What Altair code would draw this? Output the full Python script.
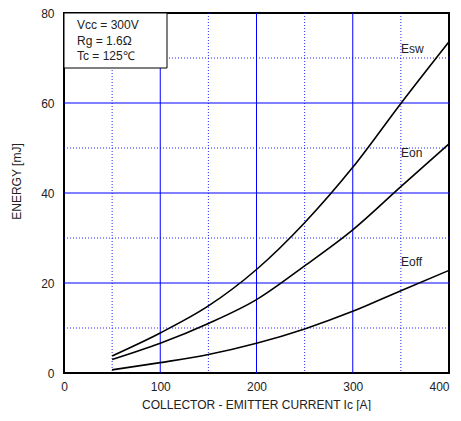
import altair as alt
import pandas as pd

# ---- data ----
ic = [50, 100, 150, 200, 250, 300, 350, 400]
esw = [3.8, 8.9, 14.9, 23.0, 33.4, 45.7, 59.9, 73.6]
eon = [3.0, 6.6, 11.0, 16.3, 23.8, 31.8, 41.4, 50.9]
eoff = [0.7, 2.3, 4.1, 6.6, 9.8, 13.7, 18.3, 22.8]
series_names = ["Esw", "Eon", "Eoff"]

x_ticks = [0, 100, 200, 300, 400]
y_ticks = [0, 20, 40, 60, 80]
x_grid_major = [100, 200, 300]
x_grid_minor = [50, 150, 250, 350]
y_grid_major = [20, 40, 60]
y_grid_minor = [10, 30, 50, 70]
cond_lines = ["Vcc = 300V", "Rg = 1.6Ω", "Tc = 125℃"]
x_title = "COLLECTOR - EMITTER CURRENT Ic [A]"
y_title = "ENERGY [mJ]"

FONT = "Liberation Sans"
W, H = 385, 360

df = pd.DataFrame({
    "Ic": ic * 3,
    "E": esw + eon + eoff,
    "s": [series_names[0]] * len(ic) + [series_names[1]] * len(ic) + [series_names[2]] * len(ic),
})

xs = alt.Scale(domain=[0, 400], nice=False, zero=False)
ys = alt.Scale(domain=[0, 80], nice=False, zero=False)

x_axis = alt.Axis(values=x_ticks, grid=False, domain=False, ticks=False,
                  labelPadding=8, labelFontSize=12, labelFont=FONT, labelColor="#222",
                  labelAlign=alt.expr("datum.value == 400 ? 'right' : 'center'"),
                  title=x_title, titleFont=FONT, titleFontSize=12, titleFontWeight="normal",
                  titleColor="#222", titleX=192, titleY=31, titleAlign="center",
                  titleBaseline="middle", labelFlush=False)
y_axis = alt.Axis(values=y_ticks, grid=False, domain=False, ticks=False,
                  labelPadding=10, labelFontSize=12, labelFont=FONT, labelColor="#222",
                  title=y_title, titleFont=FONT, titleFontSize=12, titleFontWeight="normal",
                  titleColor="#222", titleX=-48, titleY=168, titleAngle=-90,
                  titleAlign="center", titleBaseline="middle", labelFlush=False)

grid_blue = "#0000ff"


def vgrid(vals, dashed):
    d = pd.DataFrame({"v": vals})
    if dashed:
        m = alt.Chart(d).mark_rule(color=grid_blue, strokeWidth=1, strokeDash=[1, 2], opacity=0.85)
    else:
        m = alt.Chart(d).mark_rule(color=grid_blue, strokeWidth=1)
    return m.encode(x=alt.X("v:Q", scale=xs, axis=x_axis, title=x_title))


def hgrid(vals, dashed):
    d = pd.DataFrame({"v": vals})
    if dashed:
        m = alt.Chart(d).mark_rule(color=grid_blue, strokeWidth=1, strokeDash=[1, 2], opacity=0.85)
    else:
        m = alt.Chart(d).mark_rule(color=grid_blue, strokeWidth=1)
    return m.encode(y=alt.Y("v:Q", scale=ys, axis=y_axis, title=y_title))


lines = alt.Chart(df).mark_line(color="black", strokeWidth=1.6, interpolate="monotone").encode(
    x=alt.X("Ic:Q", scale=xs, axis=x_axis, title=x_title),
    y=alt.Y("E:Q", scale=ys, axis=y_axis, title=y_title),
    detail="s:N",
)

one = alt.Data(values=[{"a": 1}])

box = alt.Chart(one).mark_rect(fill="white", stroke="black", strokeWidth=1).encode(
    x=alt.value(0), x2=alt.value(103), y=alt.value(0), y2=alt.value(55)
)


def label(txt, px, py):
    return alt.Chart(one).mark_text(text=txt, align="left", baseline="middle", font=FONT,
                                    fontSize=12, color="#222").encode(
        x=alt.value(px), y=alt.value(py))


cond_y = [11.5, 27.5, 42.5]
texts = [label(t, 13, y) for t, y in zip(cond_lines, cond_y)]
curve_labels = [label(series_names[0], 337, 36), label(series_names[1], 337, 139.5),
                label(series_names[2], 337, 248.5)]

chart = alt.layer(
    vgrid(x_grid_minor, True), hgrid(y_grid_minor, True),
    vgrid(x_grid_major, False), hgrid(y_grid_major, False),
    lines, box, *texts, *curve_labels,
).properties(
    width=W, height=H,
    autosize=alt.AutoSizeParams(type="none"),
    padding={"left": 56, "top": 5, "right": 4, "bottom": 38},
).configure_view(stroke="black", strokeWidth=2)

chart.save("out.html", embed_options={"renderer": "svg", "actions": False})
